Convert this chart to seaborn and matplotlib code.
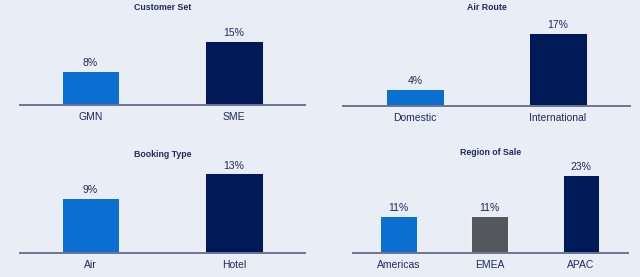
import matplotlib
matplotlib.use("Agg")
import matplotlib.pyplot as plt
import seaborn as sns
import pandas as pd

# Data
customer_cats = ["GMN", "SME"]
customer_vals = [8, 15]
route_cats = ["Domestic", "International"]
route_vals = [4, 17]
booking_cats = ["Air", "Hotel"]
booking_vals = [9, 13]
region_cats = ["Americas", "EMEA", "APAC"]
region_vals = [11, 11, 23]

light_blue = "#0a6fd0"
navy = "#001a57"
grey = "#54575c"
text_col = "#1e2a5c"
bg = "#e9eef6"

sns.set_theme(style="white")
plt.rcParams["font.family"] = ["Liberation Sans", "DejaVu Sans"]

W, H = 640, 277
fig = plt.figure(figsize=(6.4, 2.77), dpi=100, facecolor=bg)


def px_axes(x0, x1, ytop, ybase):
    # axes placed by pixel box (y measured from top)
    return fig.add_axes([x0 / W, (H - ybase) / H, (x1 - x0) / W, (ybase - ytop) / H])


def panel(ax, cats, vals, colors, ytop, xr):
    df = pd.DataFrame({"cat": cats, "val": vals})
    sns.barplot(data=df, x="cat", y="val", hue="cat", palette=colors, saturation=1,
                width=0.4, legend=False, ax=ax, edgecolor="white", linewidth=0.6)
    ax.set_facecolor("none")
    ax.set_ylim(0, ytop)
    ax.set_xlim(*xr)
    for c in ax.containers:
        ax.bar_label(c, labels=[f"{int(round(v))}%" for v in c.datavalues], padding=2,
                     fontsize=7.5, color=text_col)
    for s in ["top", "right", "left"]:
        ax.spines[s].set_visible(False)
    ax.spines["bottom"].set_color("#6b7491")
    ax.spines["bottom"].set_linewidth(1.4)
    ax.set_yticks([])
    ax.set_xlabel("")
    ax.set_ylabel("")
    ax.tick_params(axis="x", length=0, pad=5, labelsize=7.5, labelcolor=text_col)


ax1 = px_axes(20, 305, 20, 105)
panel(ax1, customer_cats, customer_vals, [light_blue, navy], 19.9, (-0.49, 1.495))
ax2 = px_axes(343, 630, 20, 106)
panel(ax2, route_cats, route_vals, [light_blue, navy], 20.0, (-0.503, 1.503))
ax3 = px_axes(20, 305, 160, 253)
panel(ax3, booking_cats, booking_vals, [light_blue, navy], 15.2, (-0.49, 1.495))
ax4 = px_axes(353, 628, 160, 253)
panel(ax4, region_cats, region_vals, [light_blue, grey, navy], 27.4, (-0.498, 2.515))

# panel titles
for ax, title, yc in [(ax1, "Customer Set", 7), (ax2, "Air Route", 7),
                      (ax3, "Booking Type", 154.5), (ax4, "Region of Sale", 152.5)]:
    bb = ax.get_position()
    fig.text((bb.x0 + bb.x1) / 2, (H - yc) / H, title, ha="center", va="center",
             fontsize=6.3, fontweight="bold", color=text_col)

fig.savefig("out.png", dpi=100, facecolor=bg)
